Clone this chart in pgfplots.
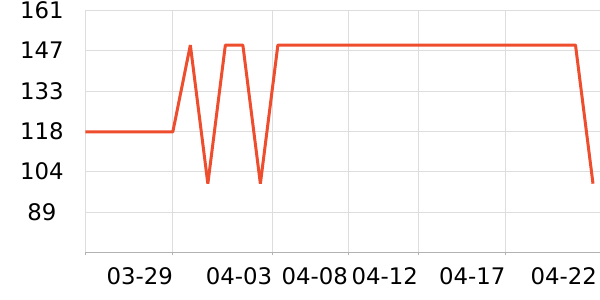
\documentclass[border=0pt]{standalone}
\usepackage{pgfplots}
\pgfplotsset{compat=1.18}
\usepackage{fontspec}
\setmainfont{DejaVu Sans}
\definecolor{linec}{RGB}{238,77,46}
\definecolor{gridc}{RGB}{221,221,221}
\definecolor{axc}{RGB}{178,178,178}
\begin{document}
\begin{tikzpicture}
\begin{axis}[
  at={(85.3pt,47.7pt)}, anchor=south west,
  width=514.7pt, height=242pt, scale only axis,
  xmin=0, xmax=29.4, ymin=75, ymax=161.4,
  axis x line=bottom, axis y line=left,
  x axis line style={-, draw=axc, line width=0.8pt},
  y axis line style={-, draw=gridc, line width=0.8pt},
  xtick={0,5,10.68,15,19,24},
  xticklabels={,03-29,04-03,04-08,04-12,04-17},
  extra x ticks={29.22}, extra x tick labels={04-22},
  extra x tick style={grid=none, major tick length=0pt, xticklabel style={yshift=-3pt}},
  ytick={75,89.4,103.8,118.2,132.6,147,161.4},
  yticklabels={,89,104,118,133,147,161},
  grid=major, grid style={draw=gridc, line width=0.8pt},
  xtick align=outside, major tick length=3pt,
  xtick style={draw=axc, line width=0.8pt},
  ytick style={draw=none},
  tick label style={font=\fontsize{22.8}{26}\selectfont, /pgf/number format/assume math mode=true},
  xticklabel style={anchor=north east, xshift=3.5pt, yshift=-9pt},
  yticklabel style={anchor=center, xshift=-41.8pt},
]
\addplot[linec, line width=3pt, line join=bevel] coordinates {
(0,118) (1,118) (2,118) (3,118) (4,118) (5,118)
(6,149) (7,99.5) (8,149) (9,149) (10,99.5)
(11,149) (12,149) (13,149) (14,149) (15,149) (16,149) (17,149) (18,149)
(19,149) (20,149) (21,149) (22,149) (23,149) (24,149) (25,149) (26,149)
(27,149) (28,149) (29,99.5)
};
\end{axis}
\pgfresetboundingbox
\path[use as bounding box] (0,0) rectangle (600pt,300pt);
\end{tikzpicture}
\end{document}
